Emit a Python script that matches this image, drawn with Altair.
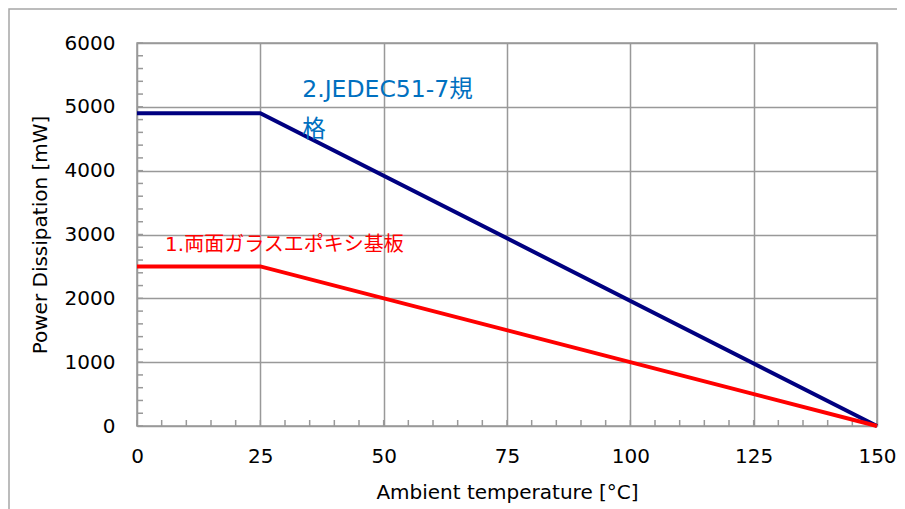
import altair as alt
import pandas as pd

temps = [0, 25, 150]
jedec = [4900, 4900, 0]
glass = [2500, 2500, 0]

series_names = ["2.JEDEC51-7規格", "1.両面ガラスエポキシ基板"]
series_colors = ["#000080", "#FF0000"]

x_minor = [v for v in range(0, 151, 5)]
y_minor = [v for v in range(0, 6001, 200)]

label_x = [33.5, 5.7]
label_y = [5270, 2840]
label_text = [["2.JEDEC51-7規", "格"], ["1.両面ガラスエポキシ基板"]]
label_colors = ["#0070C0", "#FF0000"]
label_sizes = [23.5, 20]

FONT = "DejaVu Sans, Noto Sans CJK JP"

rows = []
for name, vals in zip(series_names, [jedec, glass]):
    for t, v in zip(temps, vals):
        rows.append({"series": name, "temp": t, "power": v})
df = pd.DataFrame(rows)

xs = alt.Scale(domain=[0, 150], nice=False)
ys = alt.Scale(domain=[0, 6000], nice=False)

frame = alt.Chart(pd.DataFrame({"a": [0]})).mark_rect(
    fill=None, stroke="#a6a6a6", strokeWidth=1.5, clip=False
).encode(x=alt.value(-128), x2=alt.value(900), y=alt.value(-34), y2=alt.value(600))

base_axes = alt.Chart(df).mark_line(opacity=0).encode(
    x=alt.X("temp:Q", scale=xs, title="Ambient temperature [°C]",
            axis=alt.Axis(values=[0, 25, 50, 75, 100, 125, 150], grid=True, ticks=False,
                          domain=False, labelPadding=20, titlePadding=16, labelFlush=False,
                          format="d", gridColor="#999999", gridWidth=1.5)),
    y=alt.Y("power:Q", scale=ys, title="Power Dissipation [mW]",
            axis=alt.Axis(values=[0, 1000, 2000, 3000, 4000, 5000, 6000], grid=True, ticks=False,
                          domain=False, labelPadding=22, titlePadding=14, labelFlush=False,
                          format="d", gridColor="#999999", gridWidth=1.5)),
)

xminor = alt.Chart(pd.DataFrame({"t": x_minor})).mark_rule(color="#999999", strokeWidth=1.5).encode(
    x=alt.X("t:Q", scale=xs), y=alt.value(383), y2=alt.value(377)
)
yminor = alt.Chart(pd.DataFrame({"p": y_minor})).mark_rule(color="#999999", strokeWidth=1.5).encode(
    y=alt.Y("p:Q", scale=ys), x=alt.value(0), x2=alt.value(6)
)

lines = alt.Chart(df).mark_line(strokeWidth=4).encode(
    x=alt.X("temp:Q", scale=xs),
    y=alt.Y("power:Q", scale=ys),
    color=alt.Color("series:N", scale=alt.Scale(domain=series_names, range=series_colors), legend=None),
)

labels = []
for lx, ly, lt, lc, ls in zip(label_x, label_y, label_text, label_colors, label_sizes):
    labels.append(
        alt.Chart(pd.DataFrame({"x": [lx], "y": [ly], "t": [lt]})).mark_text(
            align="left", baseline="middle", fontSize=ls, font=FONT, color=lc, lineHeight=40
        ).encode(x=alt.X("x:Q", scale=xs), y=alt.Y("y:Q", scale=ys), text="t")
    )

chart = alt.layer(frame, base_axes, xminor, yminor, lines, *labels).properties(
    width=740, height=383,
    autosize=alt.AutoSizeParams(type="none"),
    padding={"left": 129, "top": 35, "right": 20, "bottom": 85},
).configure_view(stroke="#999999", strokeWidth=1.5).configure_axis(
    labelFont=FONT, titleFont=FONT, labelFontSize=20, titleFontSize=20,
    labelColor="#000000", titleColor="#000000", titleFontWeight="normal"
)

chart.save("out.html", embed_options={"renderer": "svg", "actions": False})
